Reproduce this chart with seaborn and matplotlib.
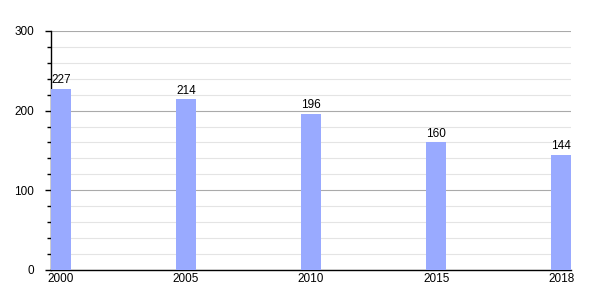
import matplotlib
matplotlib.use("Agg")
import matplotlib.pyplot as plt
import seaborn as sns
import pandas as pd
from matplotlib.ticker import MultipleLocator

years = ["2000", "2005", "2010", "2015", "2018"]
values = [227, 214, 196, 160, 144]

sns.set_style("white")
plt.rcParams['font.family'] = ['Liberation Sans', 'DejaVu Sans']

df = pd.DataFrame({"year": years, "value": values})

fig = plt.figure(figsize=(6, 3), dpi=100)
ax = fig.add_axes([0.085, 0.1, 0.867, 0.797])
sns.barplot(data=df, x="year", y="value", color="#99aaff", saturation=1,
            width=0.16, linewidth=0, edgecolor="none", ax=ax, zorder=3)

w = 0.16
ax.set_xlim(-w / 2, len(years) - 1 + w / 2)
ax.set_ylim(0, 300)
ax.yaxis.set_major_locator(MultipleLocator(100))
ax.yaxis.set_minor_locator(MultipleLocator(20))
ax.grid(True, which="major", axis="y", color="#aaaaaa", linewidth=0.8, zorder=0)
ax.grid(True, which="minor", axis="y", color="#e4e4e4", linewidth=0.8, zorder=0)
ax.set_axisbelow(True)

for s in ["top", "right"]:
    ax.spines[s].set_visible(False)
for s in ["left", "bottom"]:
    ax.spines[s].set_color("black")
    ax.spines[s].set_linewidth(1)

ax.tick_params(axis="y", which="major", length=4, width=1, direction="out",
               labelsize=8.5, left=True, pad=8, colors="black")
ax.tick_params(axis="y", which="minor", length=3, width=1, direction="out",
               left=True, colors="black")
ax.tick_params(axis="x", length=0, labelsize=8.5, pad=2, colors="black")
ax.set_xlabel("")
ax.set_ylabel("")

for c in ax.containers:
    ax.bar_label(c, labels=[str(v) for v in values], fontsize=8.5, padding=2,
                 color="black")

fig.savefig("out.png", dpi=100)
